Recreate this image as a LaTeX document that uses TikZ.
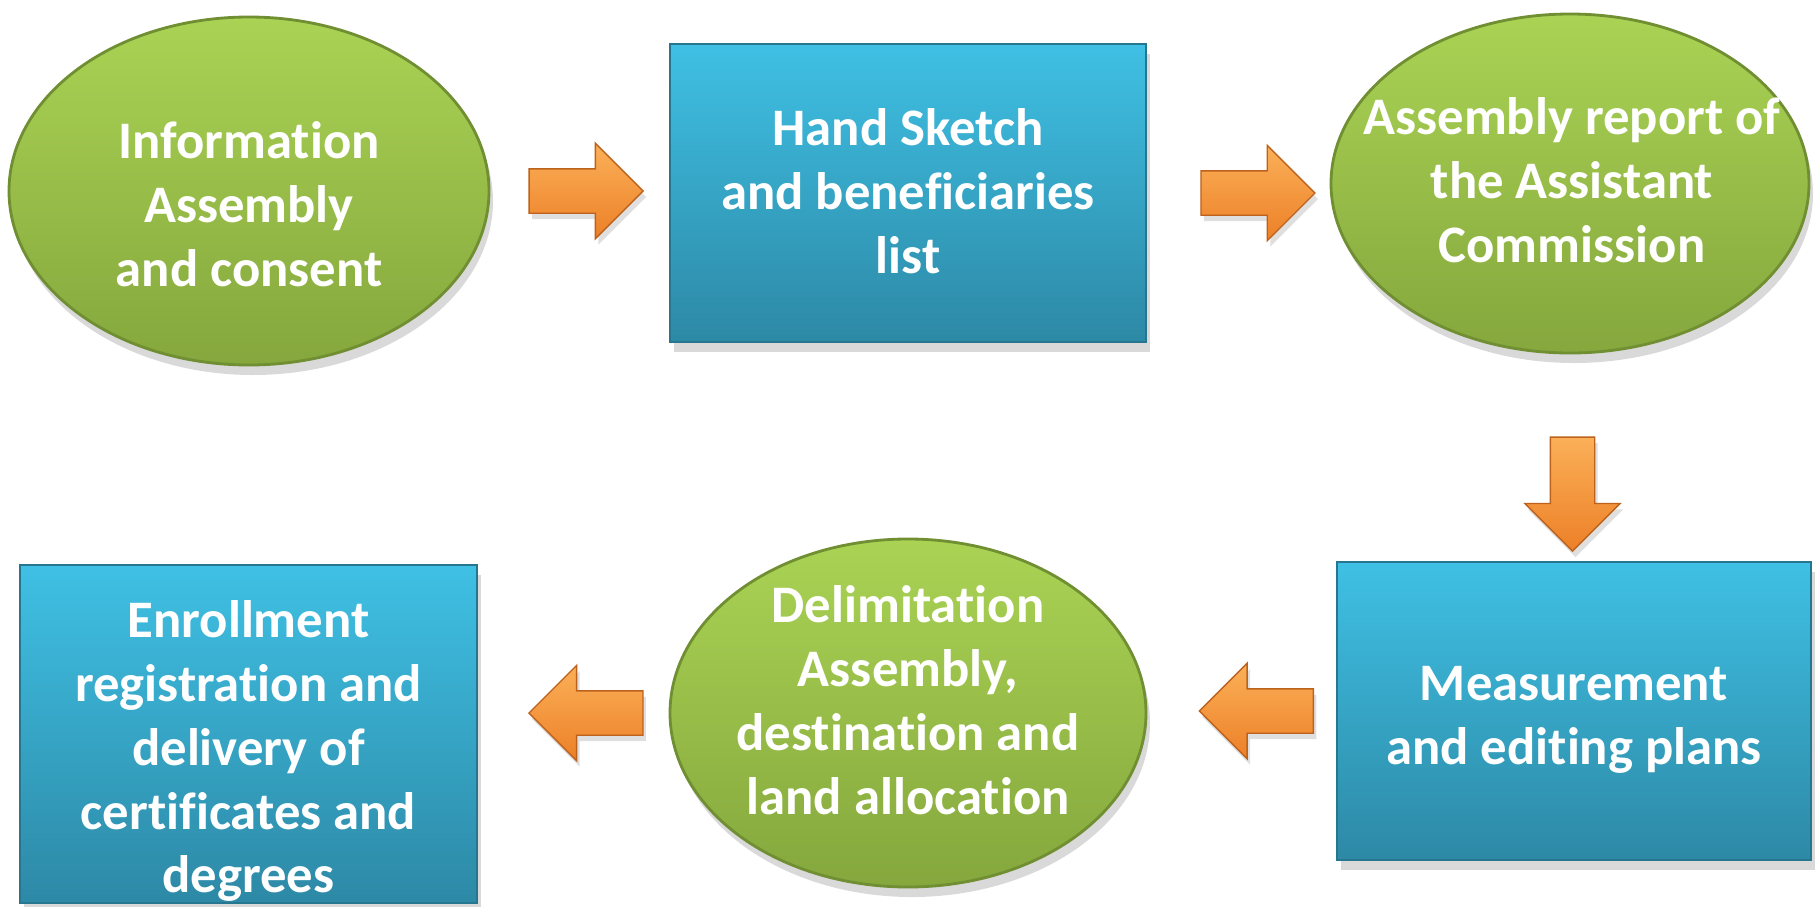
\documentclass[tikz,border=0pt]{standalone}
\usepackage{fontspec}
\setmainfont{Carlito}[Ligatures=NoCommon]
\usetikzlibrary{shapes.geometric, shapes.arrows, shadows, positioning}
\definecolor{stepgreen}{RGB}{170,211,84}
\definecolor{stepgreendark}{RGB}{133,167,61}
\definecolor{stepgreenedge}{RGB}{112,142,50}
\definecolor{stepblue}{RGB}{63,192,228}
\definecolor{stepbluedark}{RGB}{45,137,166}
\definecolor{stepblueedge}{RGB}{38,118,143}
\definecolor{arrowlight}{RGB}{251,176,88}
\definecolor{arrowdark}{RGB}{236,128,40}
\definecolor{arrowedge}{RGB}{188,98,28}
\tikzstyle{meeting} = [ellipse, draw=stepgreenedge, thick, top color=stepgreen, bottom color=stepgreendark, drop shadow={shadow xshift=0.4mm, shadow yshift=-1mm, opacity=0.3}]
\tikzstyle{record} = [rectangle, draw=stepblueedge, thick, top color=stepblue, bottom color=stepbluedark, drop shadow={shadow xshift=0.4mm, shadow yshift=-1mm, opacity=0.3}]
\tikzstyle{steptext} = [align=center, text=white, font=\fontsize{15}{18.2}\selectfont\bfseries]
\tikzstyle{flow} = [single arrow, draw=arrowedge, thin, top color=arrowlight, bottom color=arrowdark, minimum height=1.14cm, single arrow head extend=0.255cm, inner sep=0.215cm, drop shadow={shadow xshift=0.3mm, shadow yshift=-0.6mm, opacity=0.25}]

\begin{document}
\begin{tikzpicture}
\useasboundingbox (0,0) rectangle (18.18,-9.06);

% Top row
\node[meeting, minimum width=4.80cm, minimum height=3.48cm] (info) at (2.49,-1.91) {};
\node[steptext] (info_txt) at (2.49,-2.04) {Information\\Assembly\\and consent};

\node[record, minimum width=4.76cm, minimum height=2.98cm] (sketch) at (9.08,-1.93) {};
\node[steptext] (sketch_txt) at (9.08,-1.915) {Hand Sketch\\and beneficiaries\\list};

\node[meeting, minimum width=4.78cm, minimum height=3.39cm] (report) at (15.70,-1.835) {};
\node[steptext] (report_txt) at (15.72,-1.80) {Assembly report of\\the Assistant\\Commission};

% Bottom row
\node[record, minimum width=4.74cm, minimum height=2.98cm] (measure) at (15.74,-7.11) {};
\node[steptext] (measure_txt) at (15.74,-7.195) {Measurement\\and editing plans};

\node[meeting, minimum width=4.76cm, minimum height=3.48cm] (delim) at (9.08,-7.13) {};
\node[steptext] (delim_txt) at (9.08,-7.00) {Delimitation\\Assembly,\\destination and\\land allocation};

\node[record, minimum width=4.57cm, minimum height=3.38cm] (enroll) at (2.485,-7.34) {};
\node[steptext] (enroll_txt) at (2.485,-7.51) {Enrollment\\registration and\\delivery of\\certificates and\\degrees};

% Block arrows between the steps
\path (info.east) -- node[flow, pos=0.475] (arr1) {} (sketch.west |- info.east);
\path (sketch.east) -- node[flow, pos=0.546] (arr2) {} (report.west |- sketch.east);
\path (report.south) -- node[flow, pos=0.624, shape border rotate=270] (arr3) {} (measure.north);
\path (measure.west) -- node[flow, pos=0.362, shape border rotate=180] (arr4) {} (delim.east |- measure.west);
\path (delim.west) -- node[flow, pos=0.376, shape border rotate=180] (arr5) {} (enroll.east |- delim.west);

\end{tikzpicture}
\end{document}
